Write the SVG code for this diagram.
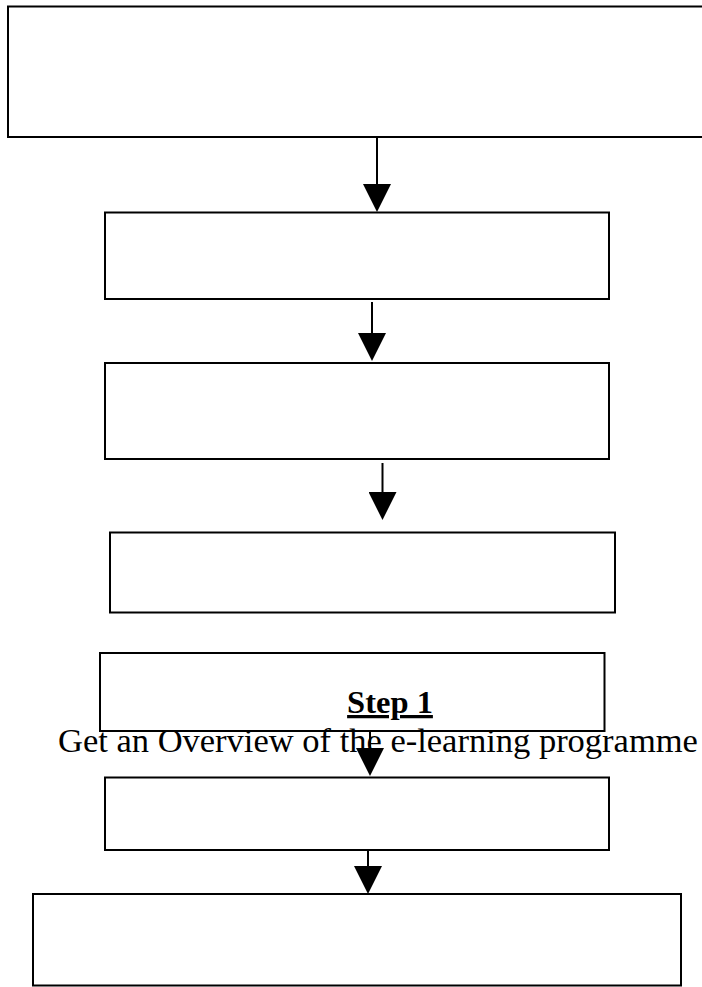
<svg xmlns="http://www.w3.org/2000/svg" width="702" height="987" viewBox="0 0 702 987">
  <style>
    .box { fill: #ffffff; stroke: #000000; stroke-width: 2; }
    .conn { stroke: #000000; stroke-width: 2; fill: none; }
    .step { font-family: "Liberation Serif", "Times New Roman", serif; font-weight: bold; font-size: 32.5px; text-decoration: underline; fill: #000000; }
    .body { font-family: "Liberation Serif", "Times New Roman", serif; font-size: 34.5px; fill: #000000; }
  </style>
  <defs>
    <marker id="arrow" markerUnits="userSpaceOnUse" markerWidth="28" markerHeight="28" refX="0" refY="13.5" orient="auto" viewBox="0 0 27 27">
      <path d="M0,0 L27,13.5 L0,27 Z" fill="#000000"/>
    </marker>
  </defs>
  <rect width="702" height="987" fill="#ffffff"/>
  <g id="node1"><rect class="box" x="8" y="6.5" width="720" height="130.5"/></g>
  <g id="node2"><rect class="box" x="105" y="212.5" width="504" height="86.5"/></g>
  <g id="node3"><rect class="box" x="105" y="363" width="504" height="96"/></g>
  <g id="node4"><rect class="box" x="110" y="532.5" width="505" height="80"/></g>
  <g id="node5">
    <rect class="box" x="100" y="653" width="504.5" height="78"/>
    <text class="step" x="390" y="713" text-anchor="middle">Step 1</text>
    <text class="body" x="58" y="752">Get an Overview of the e-learning programme</text>
  </g>
  <g id="node6"><rect class="box" x="105" y="777.5" width="504" height="72.5"/></g>
  <g id="node7"><rect class="box" x="33" y="894" width="648" height="91.5"/></g>
  <g id="connectors">
    <line class="conn" x1="377" y1="137" x2="377" y2="184" marker-end="url(#arrow)"/>
    <line class="conn" x1="372" y1="302" x2="372" y2="333" marker-end="url(#arrow)"/>
    <line class="conn" x1="382.5" y1="463" x2="382.5" y2="492" marker-end="url(#arrow)"/>
    <line class="conn" x1="370" y1="731" x2="370" y2="748" marker-end="url(#arrow)"/>
    <line class="conn" x1="368" y1="850" x2="368" y2="866" marker-end="url(#arrow)"/>
  </g>
</svg>
